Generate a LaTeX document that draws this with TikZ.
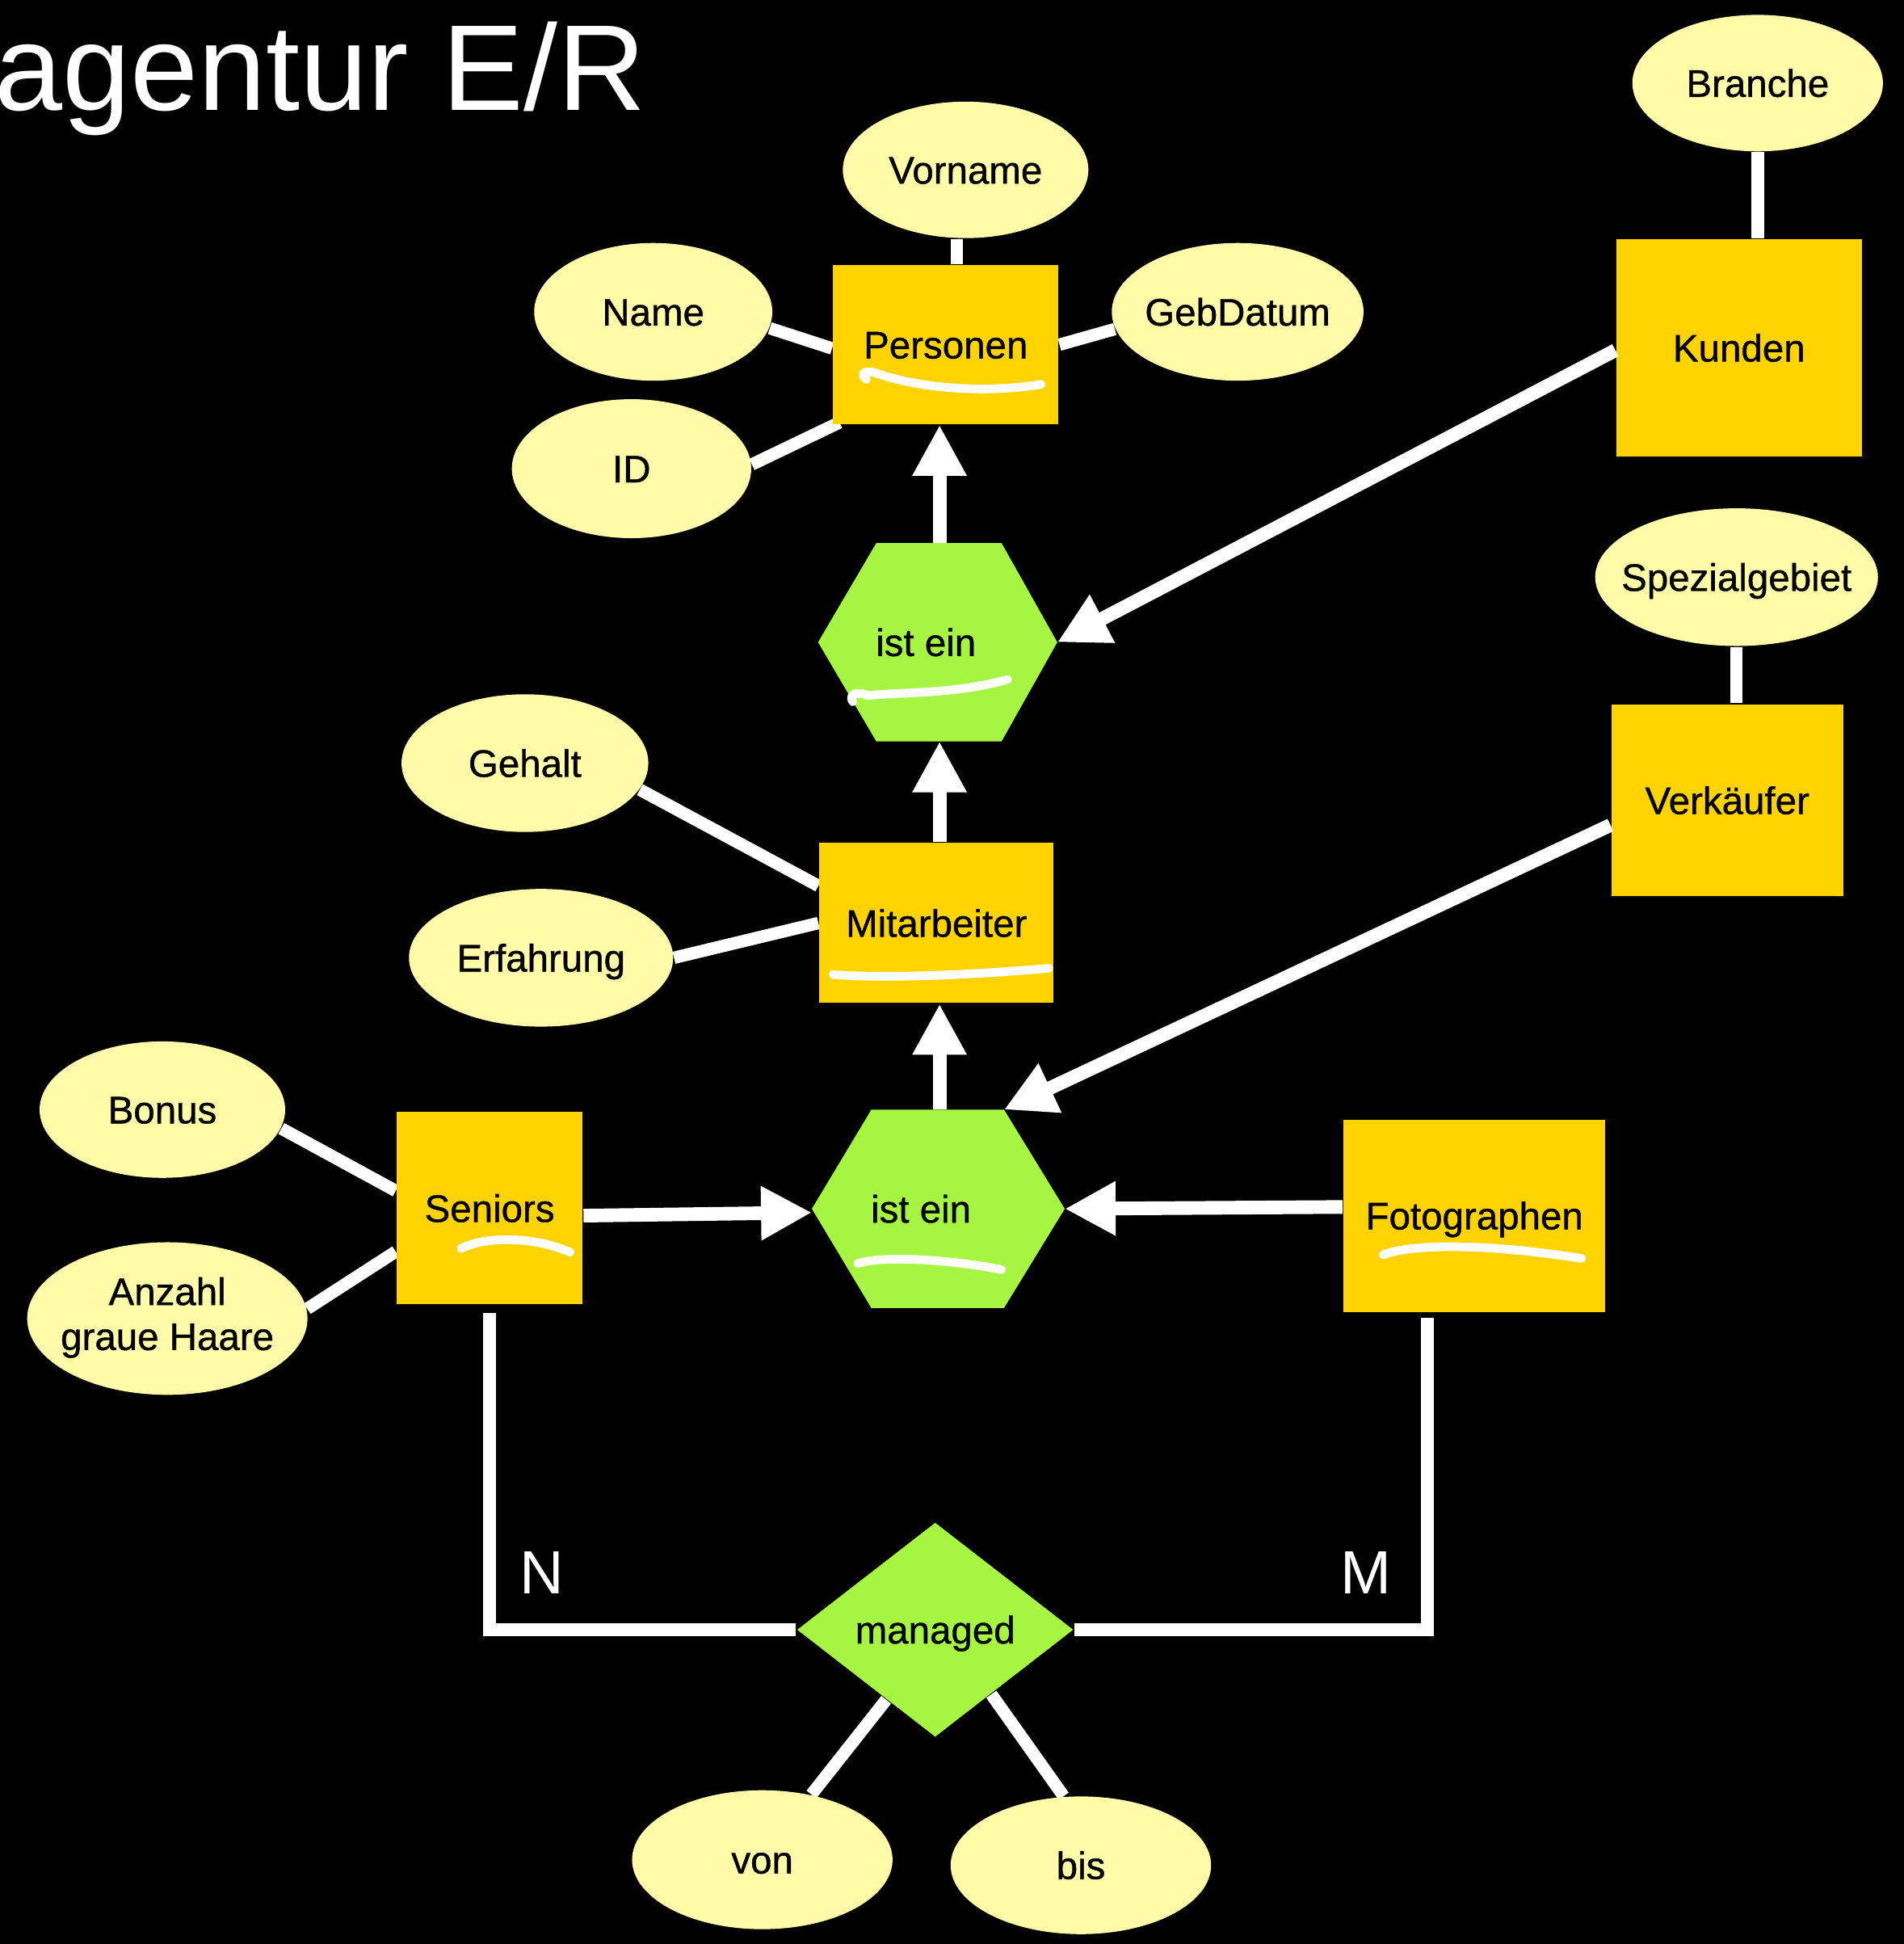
\documentclass[tikz,border=0pt]{standalone}
\usepackage{fontspec}
\setmainfont{Liberation Sans}
\newfontfamily\lblfont{Liberation Sans}[FakeBold=0.8]
\usetikzlibrary{shapes.geometric,arrows.meta,calc}
\pgfdeclarelayer{bg}
\pgfsetlayers{bg,main}
\definecolor{attrfill}{HTML}{FFFBA9}
\definecolor{entfill}{HTML}{FFD300}
\definecolor{relfill}{HTML}{A5F542}
\begin{document}
\begin{tikzpicture}[x=0.01cm,y=-0.01cm,
  lbl/.style={font=\lblfont\fontsize{8.8}{10.3}\selectfont, text=black, text height=6.3pt, text depth=0pt},
  attr/.style={ellipse, fill=attrfill, inner sep=0pt, lbl},
  ent/.style={rectangle, fill=entfill, inner sep=0pt, lbl},
  rel/.style={diamond, fill=relfill, inner sep=0pt, lbl},
  ln/.style={draw=white, line width=0.1cm},
  arr/.style={draw=white, line width=0.11cm, -{Triangle[length=0.41cm,width=0.41cm]}},
  scrib/.style={draw=white, line width=0.07cm, line cap=round, line join=round},
  card/.style={text=white, font=\fontsize{14}{16}\selectfont, text height=10pt, text depth=0pt, inner sep=0pt}]
\useasboundingbox (0,0) rectangle (1536,1568);
\begin{pgfonlayer}{bg}
\fill[black] (0,0) rectangle (1536,1568);
\end{pgfonlayer}

% title
\node[anchor=base east, text=white, font=\fontsize{28}{34}\selectfont, inner sep=0pt] (title) at (522,89) {agentur E/R};

% entities
\node[ent, minimum width=1.82cm, minimum height=1.28cm] (pers) at (763,278) {Personen};
\node[ent, minimum width=1.98cm, minimum height=1.75cm] (kun) at (1403,280.5) {Kunden};
\node[ent, minimum width=1.87cm, minimum height=1.55cm] (verk) at (1393.5,645.5) {Verkäufer};
\node[ent, minimum width=1.89cm, minimum height=1.29cm] (mit) at (755.5,744.5) {Mitarbeiter};
\node[ent, minimum width=1.50cm, minimum height=1.55cm] (sen) at (395,974.5) {Seniors};
\node[ent, minimum width=2.11cm, minimum height=1.55cm] (foto) at (1189.5,980.5) {Fotographen};

% attributes
\node[attr, minimum width=2.02cm, minimum height=1.10cm] (br) at (1418,67) {\makebox[0pt]{Branche}};
\node[attr, minimum width=1.98cm, minimum height=1.10cm] (vor) at (779,137) {\makebox[0pt]{Vorname}};
\node[attr, minimum width=1.92cm, minimum height=1.11cm] (nm) at (527,251.5) {\makebox[0pt]{Name}};
\node[attr, minimum width=2.03cm, minimum height=1.11cm] (geb) at (998.5,251.5) {\makebox[0pt]{GebDatum}};
\node[attr, minimum width=1.93cm, minimum height=1.12cm] (id) at (509.5,378) {\makebox[0pt]{ID}};
\node[attr, minimum width=2.28cm, minimum height=1.11cm] (sp) at (1401,465.5) {\makebox[0pt]{Spezialgebiet}};
\node[attr, minimum width=1.99cm, minimum height=1.11cm] (geh) at (423.5,615.5) {\makebox[0pt]{Gehalt}};
\node[attr, minimum width=2.13cm, minimum height=1.11cm] (erf) at (436.5,772.5) {\makebox[0pt]{Erfahrung}};
\node[attr, minimum width=1.98cm, minimum height=1.10cm] (bon) at (131,895) {\makebox[0pt]{Bonus}};
\node[attr, minimum width=2.26cm, minimum height=1.23cm, text height=, text depth=] (anz) at (135,1063.5)
  {\makebox[0pt]{\begin{tabular}{@{}c@{}}Anzahl\\graue Haare\end{tabular}}};
\node[attr, minimum width=2.10cm, minimum height=1.12cm] (von) at (615,1500) {\makebox[0pt]{von}};
\node[attr, minimum width=2.10cm, minimum height=1.11cm] (bis) at (872,1504.5) {\makebox[0pt]{bis}};

% relationship managed
\node[rel, minimum width=2.23cm, minimum height=1.73cm] (mgd) at (754.5,1314.5) {\makebox[0pt]{managed}};

% is-a hexagons
\coordinate (h1a) at (707,438); \coordinate (h1b) at (808,438); \coordinate (h1r) at (853,518);
\coordinate (h1c) at (808,598); \coordinate (h1d) at (707,598); \coordinate (h1l) at (660,518);
\coordinate (h1top) at (758,438); \coordinate (h1bot) at (758,598);
\fill[relfill] (h1a) -- (h1b) -- (h1r) -- (h1c) -- (h1d) -- (h1l) -- cycle;
\node[lbl] (isa1) at (747,518) {ist ein};

\coordinate (h2a) at (703,895); \coordinate (h2b) at (810,895); \coordinate (h2r) at (859,975);
\coordinate (h2c) at (810,1055); \coordinate (h2d) at (703,1055); \coordinate (h2l) at (655,975);
\coordinate (h2top) at (758,895); \coordinate (h2lt) at (655,978);
\fill[relfill] (h2a) -- (h2b) -- (h2r) -- (h2c) -- (h2d) -- (h2l) -- cycle;
\node[lbl] (isa2) at (743,975) {ist ein};

% cardinalities
\node[card] (cn) at (437,1268) {N};
\node[card] (cm) at (1102,1268) {M};

% attribute lines (behind shapes)
\begin{pgfonlayer}{bg}
\coordinate (vorc) at ($(vor.south)+(-7,0)$);
\draw[ln] (vorc) -- (vorc |- pers.north);
\draw[ln] (br.south) -- (br.south |- kun.north);
\draw[ln] (sp.south) -- (sp.south |- verk.north);
\draw[ln] (nm.-8) -- ($(pers.west)+(0,3)$);
\draw[ln] (geb.188) -- (pers.east);
\draw[ln] (id.2) -- ($(pers.south west)+(6,-2)$);
\draw[ln] (geh.-13) -- ($(mit.west)+(0,-30)$);
\draw[ln] (erf.east) -- (mit.west);
\draw[ln] (bon.-9) -- ($(sen.west)+(0,-14)$);
\draw[ln] (anz.4) -- ($(sen.west)+(0,35)$);
\draw[ln] (von.53) -- (mgd.-125);
\draw[ln] (bis.104) -- (mgd.-49);
\coordinate (senb) at ($(sen.south)+(0,6)$);
\draw[ln] (senb) -- (senb |- mgd.west) -- (mgd.west);
\coordinate (fotob) at ($(foto.south)+(-38,4)$);
\draw[ln] (fotob) -- (fotob |- mgd.east) -- (mgd.east);
\end{pgfonlayer}

% is-a arrows
\draw[arr] (h1top) -- (h1top |- pers.south);
\draw[arr] ($(kun.west)+(0,2)$) -- (h1r);
\draw[arr] (h1bot |- mit.north) -- (h1bot);
\draw[arr] (h2top) -- (h2top |- mit.south);
\draw[arr] ($(verk.west)+(0,20)$) -- (h2b);
\draw[arr] ($(sen.east)+(0,6)$) -- (h2lt);
\draw[arr] ($(foto.west)+(0,-7)$) -- (h2r);

% hand-drawn key underlines
\draw[scrib] (699,306) .. controls (692,300) and (700,298) .. (710,302)
  .. controls (740,312) and (790,318) .. (840,310);
\draw[scrib] (688,566) .. controls (684,560) and (692,557) .. (700,561)
  .. controls (730,558) and (770,560) .. (813,548);
\draw[scrib] (672,786) .. controls (720,790) and (800,785) .. (846,781);
\draw[scrib] (372,1007) .. controls (392,997) and (430,997) .. (460,1010);
\draw[scrib] (692,1019) .. controls (712,1013) and (760,1015) .. (808,1024);
\draw[scrib] (1116,1012) .. controls (1140,1003) and (1200,1003) .. (1276,1015);
\end{tikzpicture}
\end{document}
